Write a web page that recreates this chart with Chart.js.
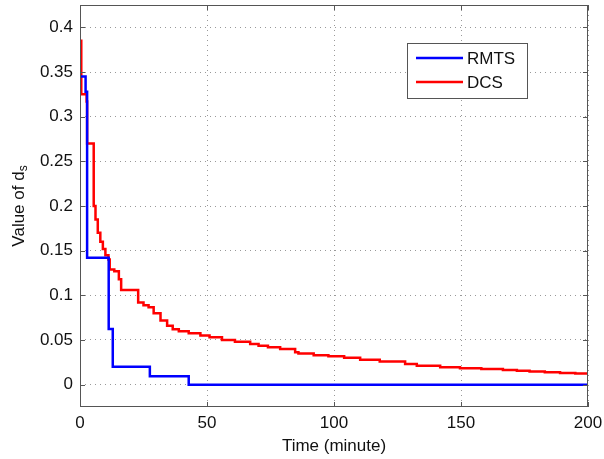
<!DOCTYPE html>
<html>
<head>
<meta charset="utf-8">
<script src="https://cdn.jsdelivr.net/npm/chart.js@4.4.0/dist/chart.umd.min.js"></script>
<style>
  html, body { margin: 0; padding: 0; background: #fff; }
  #wrap { width: 604px; height: 459px; }
</style>
</head>
<body>
<div id="wrap"><canvas id="c" width="604" height="459"></canvas></div>
<script>
// RMTS curve (stairs, value holds from time until next time)
const rmtsTime  = [0, 2.2, 2.8, 11.3, 12.9, 27.5, 42.8, 200];
const rmtsValue = [0.345, 0.328, 0.142, 0.0624, 0.02, 0.0095, 0, 0];

// DCS curve
const dcsTime  = [0, 0.5, 2.6, 2.8, 5.4, 6.1, 7, 8, 9, 10, 11.2, 11.7, 13.5, 15.3, 16.2,
                  22.9, 25, 27, 29, 31.7, 34.3, 36.5, 38.9, 42.8, 47.4, 51, 55.9, 61, 67,
                  70.3, 74, 78.8, 84.7, 86, 92, 97.8, 104, 110.3, 118, 128, 132.6, 141.8,
                  149.6, 158, 166.5, 172, 177, 183, 189, 195, 200];
const dcsValue = [0.385, 0.325, 0.317, 0.27, 0.2, 0.185, 0.17, 0.16, 0.152, 0.145, 0.14,
                  0.129, 0.127, 0.118, 0.106, 0.092, 0.089, 0.0867, 0.08, 0.0717, 0.066,
                  0.062, 0.0598, 0.0575, 0.0549, 0.053, 0.05, 0.048, 0.0456, 0.0437, 0.042,
                  0.04, 0.0362, 0.035, 0.033, 0.0317, 0.03, 0.028, 0.026, 0.0232, 0.0213,
                  0.0194, 0.0183, 0.0174, 0.0165, 0.0155, 0.0146, 0.0138, 0.0131, 0.0125,
                  0.012];

const xTicks = [0, 50, 100, 150, 200];
const yTicks = [0, 0.05, 0.1, 0.15, 0.2, 0.25, 0.3, 0.35, 0.4];

const FONT = '"Liberation Sans", Arial, sans-serif';
const AXIS_COLOR = '#555';

const toPoints = (xs, ys) => xs.map((x, i) => ({ x: x, y: ys[i] }));

// Draws the box, inward ticks, axis titles and the legend
const matlabFrame = {
  id: 'matlabFrame',
  afterDraw: (chart) => {
    const ctx = chart.ctx;
    const area = chart.chartArea;
    const xs = chart.scales.x;
    const ys = chart.scales.y;

    ctx.save();
    ctx.strokeStyle = AXIS_COLOR;
    ctx.lineWidth = 1;
    ctx.strokeRect(area.left + 0.5, area.top + 0.5, area.right - area.left - 1, area.bottom - area.top - 1);

    // inward ticks on all four sides
    const tl = 5;
    ctx.beginPath();
    xTicks.forEach(v => {
      const px = Math.round(xs.getPixelForValue(v)) + 0.5;
      ctx.moveTo(px, area.bottom); ctx.lineTo(px, area.bottom - tl);
      ctx.moveTo(px, area.top); ctx.lineTo(px, area.top + tl);
    });
    yTicks.forEach(v => {
      const py = Math.round(ys.getPixelForValue(v)) + 0.5;
      ctx.moveTo(area.left, py); ctx.lineTo(area.left + tl, py);
      ctx.moveTo(area.right, py); ctx.lineTo(area.right - tl, py);
    });
    ctx.stroke();

    // x axis title
    ctx.fillStyle = '#111';
    ctx.font = '17px ' + FONT;
    ctx.textAlign = 'center';
    ctx.textBaseline = 'middle';
    ctx.fillText('Time (minute)', (area.left + area.right) / 2, 446);

    // y axis title with subscript
    ctx.translate(19, (area.top + area.bottom) / 2);
    ctx.rotate(-Math.PI / 2);
    ctx.font = '17px ' + FONT;
    const main = 'Value of d';
    const w1 = ctx.measureText(main).width;
    ctx.font = '12px ' + FONT;
    const w2 = ctx.measureText('s').width;
    const startX = -(w1 + w2) / 2;
    ctx.textAlign = 'left';
    ctx.font = '17px ' + FONT;
    ctx.fillText(main, startX, 0);
    ctx.font = '12px ' + FONT;
    ctx.fillText('s', startX + w1, 5);
    ctx.restore();

    // legend
    ctx.save();
    const lx = 407, ly = 43, lw = 120, lh = 55;
    ctx.fillStyle = '#fff';
    ctx.fillRect(lx, ly, lw, lh);
    ctx.strokeStyle = AXIS_COLOR;
    ctx.lineWidth = 1;
    ctx.strokeRect(lx + 0.5, ly + 0.5, lw, lh);
    chart.data.datasets.forEach((ds, i) => {
      const y = ly + 15 + i * 24;
      ctx.strokeStyle = ds.borderColor;
      ctx.lineWidth = 2.5;
      ctx.beginPath();
      ctx.moveTo(416, y);
      ctx.lineTo(463, y);
      ctx.stroke();
      ctx.fillStyle = '#111';
      ctx.font = '17px ' + FONT;
      ctx.textAlign = 'left';
      ctx.textBaseline = 'middle';
      ctx.fillText(ds.label, 467, y + 1);
    });
    ctx.restore();
  }
};

new Chart(document.getElementById('c').getContext('2d'), {
  type: 'line',
  data: {
    datasets: [
      {
        label: 'RMTS',
        data: toPoints(rmtsTime, rmtsValue),
        borderColor: '#0000ff',
        borderWidth: 2.5,
        pointRadius: 0,
        stepped: 'before',
        fill: false
      },
      {
        label: 'DCS',
        data: toPoints(dcsTime, dcsValue),
        borderColor: '#ff0000',
        borderWidth: 2.5,
        pointRadius: 0,
        stepped: 'before',
        fill: false
      }
    ]
  },
  options: {
    responsive: false,
    animation: false,
    layout: { padding: { left: 0, right: 16, top: 5, bottom: 0 } },
    plugins: {
      legend: { display: false },
      tooltip: { enabled: false }
    },
    scales: {
      x: {
        type: 'linear',
        min: 0,
        max: 200,
        afterBuildTicks: (scale) => { scale.ticks = xTicks.map(v => ({ value: v })); },
        afterFit: (scale) => {
          scale.height = 52;
          scale.paddingLeft = 0;
          scale.paddingRight = 0;
        },
        ticks: {
          color: '#111',
          font: { family: FONT, size: 17 },
          padding: 6,
          maxRotation: 0,
          callback: (v) => String(v)
        },
        grid: { color: '#999', drawTicks: false, lineWidth: 1 },
        border: { display: false, dash: [1, 4] }
      },
      y: {
        type: 'linear',
        min: -0.025,
        max: 0.425,
        afterBuildTicks: (scale) => { scale.ticks = yTicks.map(v => ({ value: v })); },
        afterFit: (scale) => {
          scale.width = 80;
          scale.paddingTop = 0;
          scale.paddingBottom = 0;
        },
        ticks: {
          color: '#111',
          font: { family: FONT, size: 17 },
          padding: 7,
          callback: (v) => String(parseFloat(v.toFixed(2)))
        },
        grid: { color: '#999', drawTicks: false, lineWidth: 1 },
        border: { display: false, dash: [1, 4] }
      }
    }
  },
  plugins: [matlabFrame]
});
</script>
</body>
</html>
